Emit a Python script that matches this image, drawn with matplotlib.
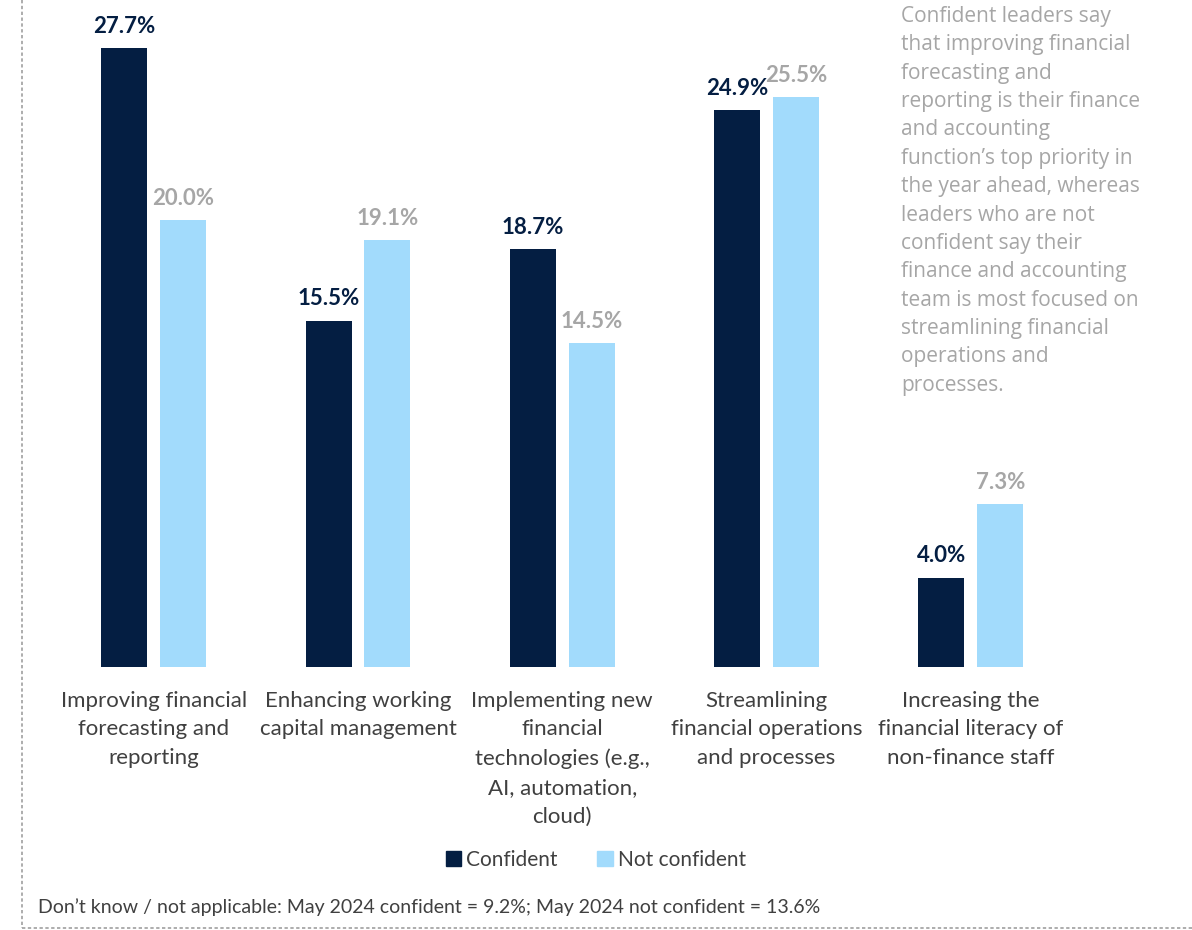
import numpy as np
import matplotlib.pyplot as plt
from matplotlib.lines import Line2D
from matplotlib.patches import Patch

categories = [
    "Improving financial\nforecasting and\nreporting",
    "Enhancing working\ncapital management",
    "Implementing new\nfinancial\ntechnologies (e.g.,\nAI, automation,\ncloud)",
    "Streamlining\nfinancial operations\nand processes",
    "Increasing the\nfinancial literacy of\nnon-finance staff",
]
confident = [27.7, 15.5, 18.7, 24.9, 4.0]
not_confident = [20.0, 19.1, 14.5, 25.5, 7.3]
series_names = ["Confident", "Not confident"]

note = ("Confident leaders say\nthat improving financial\nforecasting and\n"
        "reporting is their finance\nand accounting\nfunction\u2019s top priority in\n"
        "the year ahead, whereas\nleaders who are not\nconfident say their\n"
        "finance and accounting\nteam is most focused on\nstreamlining financial\n"
        "operations and\nprocesses.")
footnote = "Don\u2019t know / not applicable: May 2024 confident = 9.2%; May 2024 not confident = 13.6%"

dark = "#041e42"
light = "#a2dbfc"
grey = "#a6a6a6"

W, H = 1192, 930
fig = plt.figure(figsize=(W / 100, H / 100), dpi=100)

# axes placement in pixels
left_px, right_px = 51.5, 1073
bottom_px = 667
ppu = 22.35
ymax = 29
ax = fig.add_axes([left_px / W, 1 - bottom_px / H, (right_px - left_px) / W, ymax * ppu / H])

x = np.arange(len(categories))
bw = 0.225
off = 0.144
ax.bar(x - off, confident, bw, color=dark)
ax.bar(x + off, not_confident, bw, color=light)

for xi, v in zip(x - off, confident):
    ax.annotate(f"{v:.1f}%", (xi, v), xytext=(0, 8), textcoords="offset points",
                ha="center", va="bottom", fontsize=16, fontweight="bold",
                color=dark, family="Lato")
for xi, v in zip(x + off, not_confident):
    ax.annotate(f"{v:.1f}%", (xi, v), xytext=(0, 8), textcoords="offset points",
                ha="center", va="bottom", fontsize=16, fontweight="bold",
                color=grey, family="Lato")

ax.set_xlim(-0.5, len(categories) - 0.5)
ax.set_ylim(0, ymax)
ax.set_xticks(x)
ax.set_xticklabels(categories, fontsize=16, color="#404040", family="Lato",
                   linespacing=1.55)
ax.tick_params(axis="x", length=0, pad=17)
ax.set_yticks([])
for s in ax.spines.values():
    s.set_visible(False)

# side note
fig.text(901 / W, 1 - 6 / H, note, ha="left", va="top", fontsize=15,
         color=grey, family="Open Sans", linespacing=1.46)

# legend
handles = [Patch(color=dark), Patch(color=light)]
fig.legend(handles, series_names, loc="center", bbox_to_anchor=(596 / W, 1 - 860 / H),
           ncol=2, frameon=False, handlelength=0.75, handleheight=0.75,
           handletextpad=0.25, columnspacing=1.9, prop={"family": "Lato", "size": 15})
for t in fig.legends[0].get_texts():
    t.set_color("#404040")

fig.text(38 / W, 1 - 907 / H, footnote, ha="left", va="center", fontsize=14,
         color="#404040", family="Lato")

# dashed frame on left and bottom
fig.add_artist(Line2D([22 / W, 22 / W], [1, 2 / H], transform=fig.transFigure,
                      color="#a0a0a0", lw=1.2, ls=(0, (2, 1.5))))
fig.add_artist(Line2D([22 / W, 1], [2 / H, 2 / H], transform=fig.transFigure,
                      color="#a0a0a0", lw=1.2, ls=(0, (2, 1.5))))

fig.savefig("out.png", dpi=100)
